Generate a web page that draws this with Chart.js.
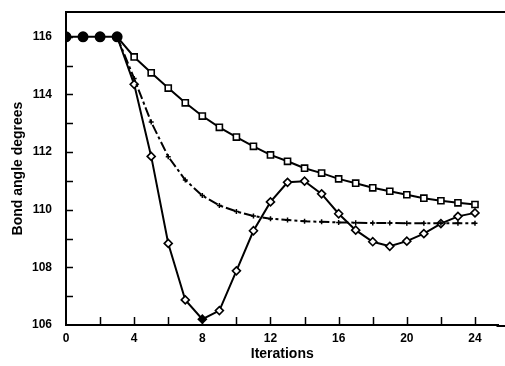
<!DOCTYPE html>
<html>
<head>
<meta charset="utf-8">
<script src="https://cdn.jsdelivr.net/npm/chart.js@4/dist/chart.umd.min.js"></script>
<style>
  html, body { margin: 0; padding: 0; background: #fff; overflow: hidden; }
  canvas { display: block; }
</style>
</head>
<body>
<canvas id="chart" width="505" height="366"></canvas>
<script>
// dados
const iterStart = [0, 1, 2, 3];
const startValues = [116, 116, 116, 116];

const iterations = [3, 4, 5, 6, 7, 8, 9, 10, 11, 12, 13, 14, 15, 16, 17, 18, 19, 20, 21, 22, 23, 24];
const squareValues = [116, 115.3, 114.75, 114.22, 113.71, 113.25, 112.86, 112.52, 112.2, 111.9, 111.68,
  111.44, 111.27, 111.07, 110.92, 110.76, 110.64, 110.52, 110.4, 110.31, 110.24, 110.18];
const crossValues = [116, 114.55, 113.04, 111.84, 111.03, 110.49, 110.15, 109.94, 109.78, 109.69, 109.64,
  109.6, 109.58, 109.56, 109.55, 109.54, 109.54, 109.53, 109.53, 109.53, 109.53, 109.53];
const diamondValues = [116, 114.35, 111.85, 108.83, 106.87, 106.2, 106.5, 107.88, 109.27, 110.27, 110.95,
  110.99, 110.55, 109.86, 109.29, 108.89, 108.73, 108.91, 109.17, 109.52, 109.77, 109.89];

const xLabels = [0, 4, 8, 12, 16, 20, 24];
const yLabels = [106, 108, 110, 112, 114, 116];

const pts = (xs, ys) => xs.map((x, i) => ({ x: x, y: ys[i] }));

// esconde o primeiro ponto (ja desenhado como circulo cheio)
const hideFirst = r => ctx => ctx.dataIndex === 0 ? 0 : r;
const diamondMin = Math.min(...diamondValues);

// ===== PLUGIN: moldura e ticks internos =====
const frame = {
  id: 'frame',
  afterDraw(chart) {
    const { ctx, chartArea: a, scales: { x, y } } = chart;
    ctx.save();
    ctx.strokeStyle = '#000';
    ctx.lineWidth = 2;
    ctx.beginPath();
    ctx.moveTo(a.left, a.top);
    ctx.lineTo(chart.width, a.top);
    // eixo x ate a borda
    ctx.moveTo(a.right - 2, a.bottom + 1);
    ctx.lineTo(chart.width, a.bottom + 1);
    ctx.stroke();
    ctx.lineWidth = 1.5;
    ctx.beginPath();
    x.ticks.forEach(t => {
      if (t.value <= 0) return;
      const px = Math.round(x.getPixelForValue(t.value)) + 0.5;
      ctx.moveTo(px, a.bottom);
      ctx.lineTo(px, a.bottom - 8);
    });
    y.ticks.forEach(t => {
      if (t.value <= y.min) return;
      const py = Math.round(y.getPixelForValue(t.value)) + 0.5;
      ctx.moveTo(a.left, py);
      ctx.lineTo(a.left + 7, py);
    });
    ctx.stroke();
    ctx.restore();
  }
};

const fontTicks = { family: "'Liberation Sans', Arial, sans-serif", size: 12, weight: 'bold' };
const fontTitle = { family: "'Liberation Sans', Arial, sans-serif", size: 14, weight: 'bold' };

new Chart(document.getElementById('chart'), {
  type: 'scatter',
  data: {
    datasets: [
      {
        label: 'inicio',
        data: pts(iterStart, startValues),
        showLine: true,
        borderColor: '#000',
        borderWidth: 2,
        pointStyle: 'circle',
        pointRadius: 4.5,
        pointBackgroundColor: '#000',
        pointBorderColor: '#000'
      },
      {
        label: 'quadrados',
        data: pts(iterations, squareValues),
        showLine: true,
        borderColor: '#000',
        borderWidth: 2,
        pointStyle: 'rect',
        pointRadius: hideFirst(4.3),
        pointBackgroundColor: '#fff',
        pointBorderColor: '#000',
        pointBorderWidth: 1.6
      },
      {
        label: 'tracejado',
        data: pts(iterations, crossValues),
        showLine: true,
        borderColor: '#000',
        borderWidth: 2,
        borderDash: [10, 3, 3, 3],
        pointStyle: 'cross',
        pointRadius: hideFirst(2.5),
        pointBorderColor: '#000',
        pointBorderWidth: 1.5
      },
      {
        label: 'losangos',
        data: pts(iterations, diamondValues),
        showLine: true,
        borderColor: '#000',
        borderWidth: 2,
        pointStyle: 'rectRot',
        pointRadius: hideFirst(4),
        pointBackgroundColor: ctx => ctx.raw && ctx.raw.y === diamondMin ? '#000' : '#fff',
        pointBorderColor: '#000',
        pointBorderWidth: 1.6
      }
    ]
  },
  options: {
    responsive: false,
    animation: false,
    devicePixelRatio: 1,
    layout: { padding: { top: 12, right: 0, left: 0, bottom: 0 } },
    plugins: { legend: { display: false }, tooltip: { enabled: false } },
    scales: {
      x: {
        type: 'linear',
        min: 0,
        max: 25.38,
        grid: { display: false, drawTicks: false },
        border: { display: true, color: '#000', width: 2 },
        ticks: {
          stepSize: 2,
          includeBounds: false,
          autoSkip: false,
          maxRotation: 0,
          padding: 6,
          color: '#000',
          font: fontTicks,
          callback: v => xLabels.includes(v) ? String(v) : ''
        },
        title: { display: true, text: 'Iterations', color: '#000', font: fontTitle, padding: { top: 0, bottom: 3 } },
        afterFit: s => { s.height = 41; s.paddingLeft = 0; s.paddingRight = 0; }
      },
      y: {
        type: 'linear',
        min: 106,
        max: 116.86,
        grid: { display: false, drawTicks: false },
        border: { display: true, color: '#000', width: 2 },
        ticks: {
          stepSize: 1,
          includeBounds: false,
          autoSkip: false,
          padding: 14,
          color: '#000',
          font: fontTicks,
          callback: v => yLabels.includes(v) ? String(v) : ''
        },
        title: { display: true, text: 'Bond angle degrees', color: '#000', font: fontTitle, padding: { top: 10, bottom: 0 } },
        afterFit: s => { s.width = 66; s.paddingTop = 0; s.paddingBottom = 0; }
      }
    }
  },
  plugins: [frame]
});
</script>
</body>
</html>
